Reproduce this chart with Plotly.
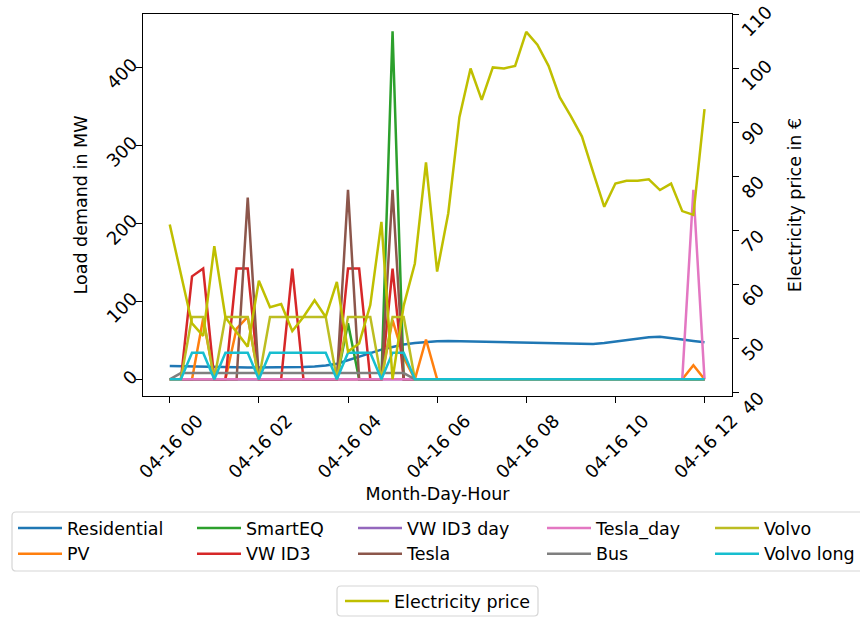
import pandas as pd
import plotly.graph_objects as go

# ---------------- data ----------------
times = pd.date_range("2023-04-16 00:00", periods=49, freq="15min")

residential = [17.0, 16.6, 16.2, 15.9, 15.6, 15.4, 15.3, 15.2, 15.2, 15.2,
               15.3, 15.4, 15.7, 16.4, 17.6, 20.0, 24.5, 29.5, 34.0, 38.0,
               41.5, 44.5, 46.5, 48.0, 48.8, 49.0, 48.7, 48.5, 48.3, 48.1,
               47.9, 47.6, 47.3, 47.0, 46.6, 46.2, 45.8, 45.4, 45.3, 46.5,
               48.5, 50.5, 52.5, 54.0, 54.4, 53.0, 51.0, 49.2, 47.4]
pv = [0, 0, 0, 78, 0, 0, 65, 80, 0, 0,
      0, 0, 0, 0, 0, 0, 0, 0, 0, 0,
      76, 28, 0, 51, 0, 0, 0, 0, 0, 0,
      0, 0, 0, 0, 0, 0, 0, 0, 0, 0,
      0, 0, 0, 0, 0, 0, 0, 18, 0]
smarteq = [0, 0, 0, 0, 0, 0, 0, 0, 0, 0,
           0, 0, 0, 0, 0, 0, 72, 0, 0, 0,
           446, 0, 0, 0, 0, 0, 0, 0, 0, 0,
           0, 0, 0, 0, 0, 0, 0, 0, 0, 0,
           0, 0, 0, 0, 0, 0, 0, 0, 0]
vw_id3 = [0, 0, 132, 142, 0, 0, 142, 142, 0, 0,
          0, 142, 0, 0, 0, 0, 142, 142, 0, 0,
          142, 0, 0, 0, 0, 0, 0, 0, 0, 0,
          0, 0, 0, 0, 0, 0, 0, 0, 0, 0,
          0, 0, 0, 0, 0, 0, 0, 0, 0]
vw_id3_day = [0, 0, 0, 0, 0, 0, 0, 0, 0, 0,
              0, 0, 0, 0, 0, 0, 0, 0, 0, 0,
              0, 0, 0, 0, 0, 0, 0, 0, 0, 0,
              0, 0, 0, 0, 0, 0, 0, 0, 0, 0,
              0, 0, 0, 0, 0, 0, 0, 0, 0]
tesla = [0, 0, 0, 0, 0, 0, 0, 233, 0, 0,
         0, 0, 0, 0, 0, 0, 243, 0, 0, 0,
         243, 0, 0, 0, 0, 0, 0, 0, 0, 0,
         0, 0, 0, 0, 0, 0, 0, 0, 0, 0,
         0, 0, 0, 0, 0, 0, 0, 0, 0]
tesla_day = [0, 0, 0, 0, 0, 0, 0, 0, 0, 0,
             0, 0, 0, 0, 0, 0, 0, 0, 0, 0,
             0, 0, 0, 0, 0, 0, 0, 0, 0, 0,
             0, 0, 0, 0, 0, 0, 0, 0, 0, 0,
             0, 0, 0, 0, 0, 0, 0, 243, 0]
bus = [0, 8, 8, 8, 8, 8, 8, 8, 8, 8,
       8, 8, 8, 8, 8, 8, 8, 8, 8, 8,
       8, 8, 0, 0, 0, 0, 0, 0, 0, 0,
       0, 0, 0, 0, 0, 0, 0, 0, 0, 0,
       0, 0, 0, 0, 0, 0, 0, 0, 0]
volvo = [0, 0, 80, 80, 0, 80, 80, 80, 0, 80,
         80, 80, 80, 80, 80, 0, 80, 80, 80, 0,
         80, 80, 0, 0, 0, 0, 0, 0, 0, 0,
         0, 0, 0, 0, 0, 0, 0, 0, 0, 0,
         0, 0, 0, 0, 0, 0, 0, 0, 0]
volvo_long = [0, 0, 34, 34, 0, 34, 34, 34, 0, 34,
              34, 34, 34, 34, 34, 0, 34, 34, 34, 0,
              34, 34, 0, 0, 0, 0, 0, 0, 0, 0,
              0, 0, 0, 0, 0, 0, 0, 0, 0, 0,
              0, 0, 0, 0, 0, 0, 0, 0, 0]
price = [71.0, 61.9, 52.7, 50.4, 67.0, 53.8, 51.2, 48.4, 60.6, 55.7,
         56.3, 51.3, 53.9, 57.0, 53.9, 60.4, 47.5, 49.0, 56.1, 71.5,
         42.4, 56.0, 63.8, 82.5, 62.3, 73.1, 90.9, 99.9, 94.1, 100.1,
         99.9, 100.4, 106.7, 104.3, 100.4, 94.6, 91.1, 87.3, 80.7, 74.3,
         78.6, 79.1, 79.1, 79.4, 77.4, 78.6, 73.5, 72.8, 92.4]

series_names = ["Residential", "PV", "SmartEQ", "VW ID3", "VW ID3 day",
                "Tesla", "Tesla_day", "Bus", "Volvo", "Volvo long"]
series_values = [residential, pv, smarteq, vw_id3, vw_id3_day,
                 tesla, tesla_day, bus, volvo, volvo_long]
series_colors = ["#1f77b4", "#ff7f0e", "#2ca02c", "#d62728", "#9467bd",
                 "#8c564b", "#e377c2", "#7f7f7f", "#bcbd22", "#17becf"]
price_name = "Electricity price"
price_color = "#bfbf00"

# ---------------- geometry ----------------
W, H = 860, 617
ML, MR, MT, MB = 143, 128, 14, 221
PW, PH = W - ML - MR, H - MT - MB


def px_x(px):
    return (px - ML) / PW


def px_y(py):
    return (H - MB - py) / PH


FONT = "DejaVu Sans"
FS = 17.5
TFS = 18

fig = go.Figure()

# legend columns (matplotlib legend is column-major, 2 rows x 5 cols)
legend_ids = ["legend", "legend", "legend2", "legend2", "legend3",
              "legend3", "legend4", "legend4", "legend5", "legend5"]

for name, vals, col, lg in zip(series_names, series_values, series_colors, legend_ids):
    fig.add_trace(go.Scatter(x=times, y=vals, name=name, mode="lines",
                             line=dict(color=col, width=2.5), legend=lg,
                             yaxis="y"))

fig.add_trace(go.Scatter(x=times, y=price, name=price_name, mode="lines",
                         line=dict(color=price_color, width=2.5),
                         legend="legend6", yaxis="y2"))

axis_common = dict(showline=True, linecolor="black", linewidth=1.4,
                   ticks="outside", ticklen=6, tickwidth=1.4, tickcolor="black",
                   showgrid=False, zeroline=False, automargin=False,
                   tickfont=dict(family=FONT, size=TFS, color="black"))

x_start = times[0] - pd.Timedelta(minutes=36)
x_end = times[-1] + pd.Timedelta(minutes=37)

fig.update_layout(
    width=W, height=H, autosize=False,
    margin=dict(l=ML, r=MR, t=MT, b=MB, autoexpand=False),
    paper_bgcolor="white", plot_bgcolor="white",
    font=dict(family=FONT, size=FS, color="black"),
    xaxis=dict(type="date", range=[x_start, x_end],
               tick0=times[0], dtick=2 * 3600 * 1000, tickformat="%m-%d %H",
               tickangle=-45, ticklabelshift=28, mirror=True,
               title=dict(text="Month-Day-Hour", standoff=6,
                          font=dict(family=FONT, size=FS)),
               **axis_common),
    yaxis=dict(range=[-21.4, 468.3], tickvals=[0, 100, 200, 300, 400],
               tickangle=-45, ticklabelshift=-5,
               title=dict(text="Load demand in MW", standoff=10,
                          font=dict(family=FONT, size=FS)),
               **axis_common),
    yaxis2=dict(range=[39.26, 110.0], tickvals=[40, 50, 60, 70, 80, 90, 100, 110],
                overlaying="y", side="right", tickangle=-45, ticklabelshift=20,
                title=dict(text="Electricity price in €", standoff=13,
                           font=dict(family=FONT, size=FS)),
                **axis_common),
)

# legend columns: x position = line start - 5 px
col_line_starts = [18, 197, 358, 547, 715]
legend_top = 510
for i, xs in enumerate(col_line_starts):
    key = "legend" if i == 0 else "legend%d" % (i + 1)
    fig.update_layout({key: dict(x=px_x(xs - 5), y=px_y(legend_top),
                                 xanchor="left", yanchor="top",
                                 orientation="v", bgcolor="rgba(0,0,0,0)",
                                 borderwidth=0, tracegroupgap=0, itemwidth=44,
                                 font=dict(family=FONT, size=FS, color="black"))})
fig.update_layout(legend6=dict(x=px_x(345 - 5), y=px_y(583), xanchor="left",
                               yanchor="top", orientation="v", itemwidth=44,
                               bgcolor="rgba(0,0,0,0)", borderwidth=0,
                               font=dict(family=FONT, size=FS, color="black")))


def rounded_rect(x0, y0, x1, y1, r=4):
    # pixel coords -> paper path with rounded corners
    def P(px, py):
        return "%.5f,%.5f" % (px_x(px), px_y(py))
    return ("M" + P(x0 + r, y0) + " L" + P(x1 - r, y0) + " Q" + P(x1, y0) + " " + P(x1, y0 + r) +
            " L" + P(x1, y1 - r) + " Q" + P(x1, y1) + " " + P(x1 - r, y1) +
            " L" + P(x0 + r, y1) + " Q" + P(x0, y1) + " " + P(x0, y1 - r) +
            " L" + P(x0, y0 + r) + " Q" + P(x0, y0) + " " + P(x0 + r, y0) + " Z")


for box in [(12, 512, 875, 571), (337, 586, 538, 616)]:
    fig.add_shape(type="path", xref="paper", yref="paper", path=rounded_rect(*box),
                  line=dict(color="#d6d6d6", width=1.2), fillcolor="rgba(255,255,255,0.8)",
                  layer="below")

fig.write_html("out.html")
